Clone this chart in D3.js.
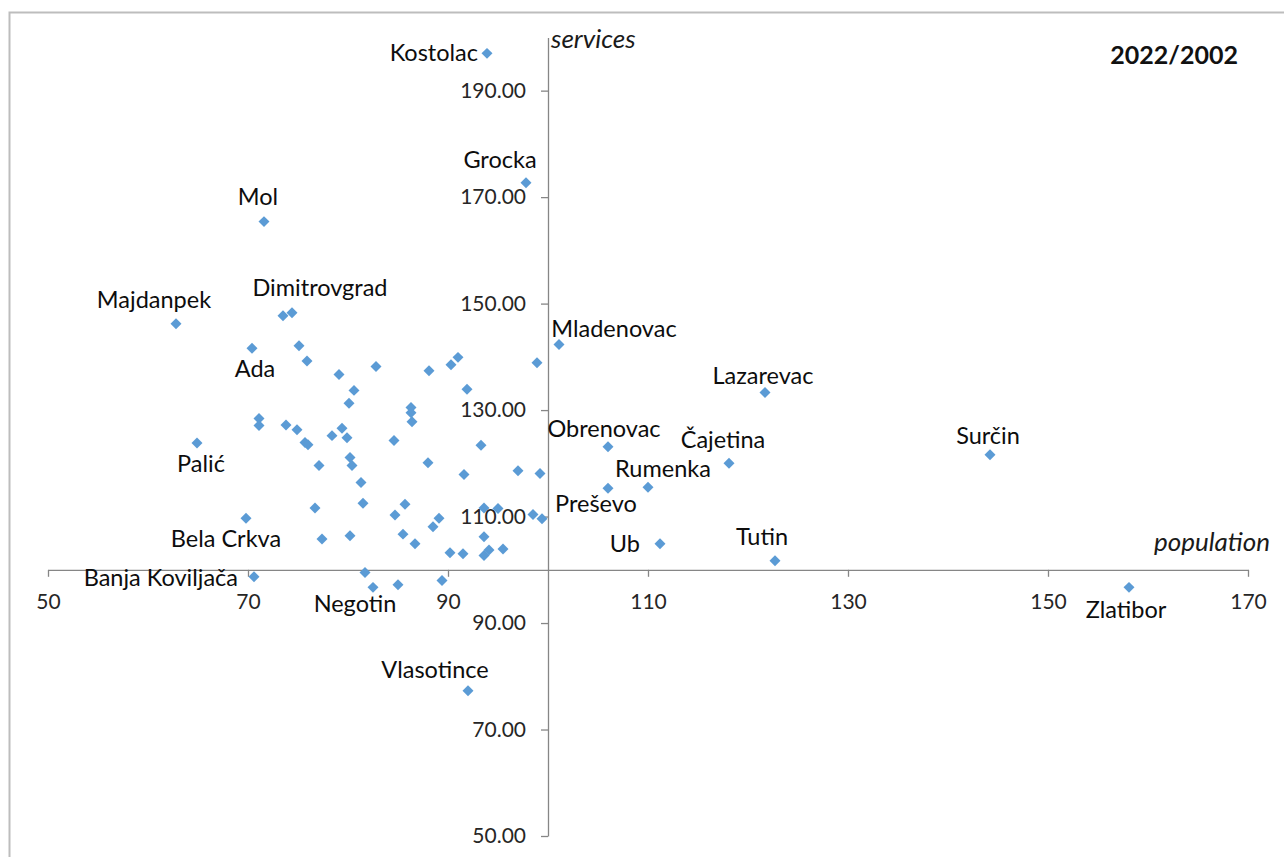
<!DOCTYPE html>
<html>
<head>
<meta charset="utf-8">
<script src="https://cdn.jsdelivr.net/npm/d3@7"></script>
<style>
    body { margin: 0; background: #ffffff; }
    #scatter-chart { width: 1284px; height: 857px; overflow: hidden; }
    .axis path, .axis line { stroke: #868686; stroke-width: 1.3; }
    .axis text { font-family: Lato, "Open Sans", sans-serif; font-size: 21px; fill: #262626; }
    .town-label { font-family: Lato, "Open Sans", sans-serif; font-size: 23.5px; fill: #0d0d0d; }
</style>
</head>
<body>
<div id="scatter-chart"></div>
<script>

// labelled towns: index of population and services, 2022/2002
var townNames = ["Kostolac", "Grocka", "Mol", "Majdanpek", "Dimitrovgrad", "Ada", "Palić",
    "Bela Crkva", "Banja Koviljača", "Negotin", "Vlasotince", "Mladenovac", "Lazarevac",
    "Obrenovac", "Čajetina", "Rumenka", "Preševo", "Ub", "Tutin", "Surčin", "Zlatibor"];
var townPopulation = [93.9, 97.8, 71.6, 62.8, 74.4, 70.4, 64.9,
    69.8, 70.6, 82.5, 92.0, 101.1, 121.7,
    106.0, 118.1, 110.0, 106.0, 111.2, 122.7, 144.2, 158.1];
var townServices = [197.0, 172.7, 165.4, 146.2, 148.3, 141.6, 123.8,
    109.7, 98.7, 96.7, 77.3, 142.3, 133.3,
    123.1, 120.0, 115.5, 115.3, 104.9, 101.7, 121.6, 96.7];

// towns drawn without a label
var otherPopulation = [73.5, 75.1, 75.9, 79.1, 82.8, 80.6, 80.1, 88.1, 90.3, 91.0,
    98.9, 91.9, 86.3, 86.3, 86.4, 71.1, 71.1, 73.8, 74.9, 79.4,
    78.4, 79.9, 75.7, 76.0, 84.6, 93.3, 77.1, 80.2, 80.4, 88.0,
    91.6, 97.0, 99.2, 81.3, 81.5, 85.7, 76.7, 84.7, 89.1, 88.5,
    93.6, 95.0, 98.5, 99.4, 77.4, 80.2, 85.5, 86.7, 93.6, 90.2,
    91.5, 93.6, 94.1, 95.5, 81.7, 85.0, 89.4];
var otherServices = [147.7, 142.1, 139.2, 136.7, 138.2, 133.7, 131.3, 137.4, 138.5, 139.9,
    138.9, 133.9, 130.5, 129.5, 127.8, 128.4, 127.1, 127.2, 126.3, 126.6,
    125.2, 124.8, 123.9, 123.5, 124.3, 123.4, 119.6, 121.1, 119.6, 120.1,
    117.9, 118.6, 118.1, 116.4, 112.5, 112.3, 111.6, 110.3, 109.7, 108.1,
    111.6, 111.5, 110.4, 109.6, 105.8, 106.4, 106.7, 104.9, 106.2, 103.2,
    103.0, 102.7, 103.7, 103.9, 99.5, 97.2, 98.0];

var xTicks = [50, 70, 90, 110, 130, 150, 170];
var yTicks = [50, 70, 90, 110, 130, 150, 170, 190];

// where each label sits relative to its marker: [dx, dy, anchor]
var labelOffsets = {
    "Kostolac": [-9, 8, "end"], "Grocka": [-26, -15, "middle"], "Mol": [-6, -17, "middle"],
    "Majdanpek": [-22, -16, "middle"], "Dimitrovgrad": [28, -17, "middle"], "Ada": [3, 29, "middle"],
    "Palić": [4, 29, "middle"], "Bela Crkva": [-20, 29, "middle"], "Banja Koviljača": [-16, 9, "end"],
    "Negotin": [-18, 25, "middle"], "Vlasotince": [-33, -13, "middle"], "Mladenovac": [55, -8, "middle"],
    "Lazarevac": [-2, -9, "middle"], "Obrenovac": [-4, -10, "middle"], "Čajetina": [-6, -15, "middle"],
    "Rumenka": [15, -10, "middle"], "Preševo": [-12, 24, "middle"], "Ub": [-20, 8, "end"],
    "Tutin": [-13, -16, "middle"], "Surčin": [-2, -11, "middle"], "Zlatibor": [-3, 31, "middle"]
};

/**
 * Constructor for the scatter chart
 */
function TownScatter()
{
    var self = this;
    self.towns = townNames.map(function(name, i) {
        return {name: name, population: townPopulation[i], services: townServices[i]};
    });
    self.others = otherPopulation.map(function(p, i) {
        return {name: null, population: p, services: otherServices[i]};
    });
    self.init();
}

/**
 * Creates the svg and the chart frame
 */
TownScatter.prototype.init = function()
{
    var self = this;
    self.svgWidth = 1284;
    self.svgHeight = 857;

    self.svg = d3.select("#scatter-chart").append("svg")
        .attr("width", self.svgWidth)
        .attr("height", self.svgHeight);

    // chart area border (only left and top fall inside the picture)
    self.svg.append("rect")
        .attr("x", 9.5)
        .attr("y", 12.5)
        .attr("width", 1400)
        .attr("height", 1000)
        .style("fill", "none")
        .style("stroke", "#bdbdbd")
        .style("stroke-width", 2);
};

/**
 * Draws axes crossing at 100/100, the markers and their labels
 */
TownScatter.prototype.update = function()
{
    var self = this;

    var x = d3.scaleLinear().domain([50, 170]).range([48, 1248]);
    var y = d3.scaleLinear().domain([50, 200]).range([836, 37.4]);

    var xAxis = d3.axisBottom(x)
        .tickValues(xTicks)
        .tickFormat(d3.format("d"))
        .tickSizeInner(7)
        .tickSizeOuter(0)
        .tickPadding(17);

    var yAxis = d3.axisLeft(y)
        .tickValues(yTicks)
        .tickFormat(d3.format(".2f"))
        .tickSizeInner(7)
        .tickSizeOuter(0)
        .tickPadding(15);

    self.svg.append("g")
        .attr("class", "x axis")
        .attr("transform", "translate(0," + y(100) + ")")
        .call(xAxis);

    self.svg.append("g")
        .attr("class", "y axis")
        .attr("transform", "translate(" + x(100) + ",0)")
        .call(yAxis);

    // axis titles
    self.svg.append("text")
        .attr("x", x(100) + 3)
        .attr("y", y(200) + 11)
        .style("font-family", "Lato, 'Open Sans', sans-serif")
        .style("font-size", "26px")
        .style("font-style", "italic")
        .style("fill", "#1a1a1a")
        .text("services");

    self.svg.append("text")
        .attr("x", x(170) + 22)
        .attr("y", y(100) - 19)
        .attr("text-anchor", "end")
        .style("font-family", "Lato, 'Open Sans', sans-serif")
        .style("font-size", "26px")
        .style("font-style", "italic")
        .style("fill", "#1a1a1a")
        .text("population");

    self.svg.append("text")
        .attr("x", 1238)
        .attr("y", 64)
        .attr("text-anchor", "end")
        .style("font-family", "Lato, 'Open Sans', sans-serif")
        .style("font-size", "25px")
        .style("font-weight", "bold")
        .style("fill", "#111111")
        .text("2022/2002");

    var diamond = d3.symbol().type(d3.symbolSquare).size(60);
    var all = self.others.concat(self.towns);

    self.svg.append("g")
        .selectAll("path")
        .data(all)
        .enter().append("path")
        .attr("d", diamond)
        .attr("transform", function(d) {
            return "translate(" + x(d.population) + "," + y(d.services) + ") rotate(45)";
        })
        .style("fill", "#5b9bd5");

    self.svg.append("g")
        .selectAll("text")
        .data(self.towns)
        .enter().append("text")
        .attr("class", "town-label")
        .attr("x", function(d) { return x(d.population) + labelOffsets[d.name][0]; })
        .attr("y", function(d) { return y(d.services) + labelOffsets[d.name][1]; })
        .attr("text-anchor", function(d) { return labelOffsets[d.name][2]; })
        .text(function(d) { return d.name; });
};

var chart = new TownScatter();
chart.update();
</script>
</body>
</html>
